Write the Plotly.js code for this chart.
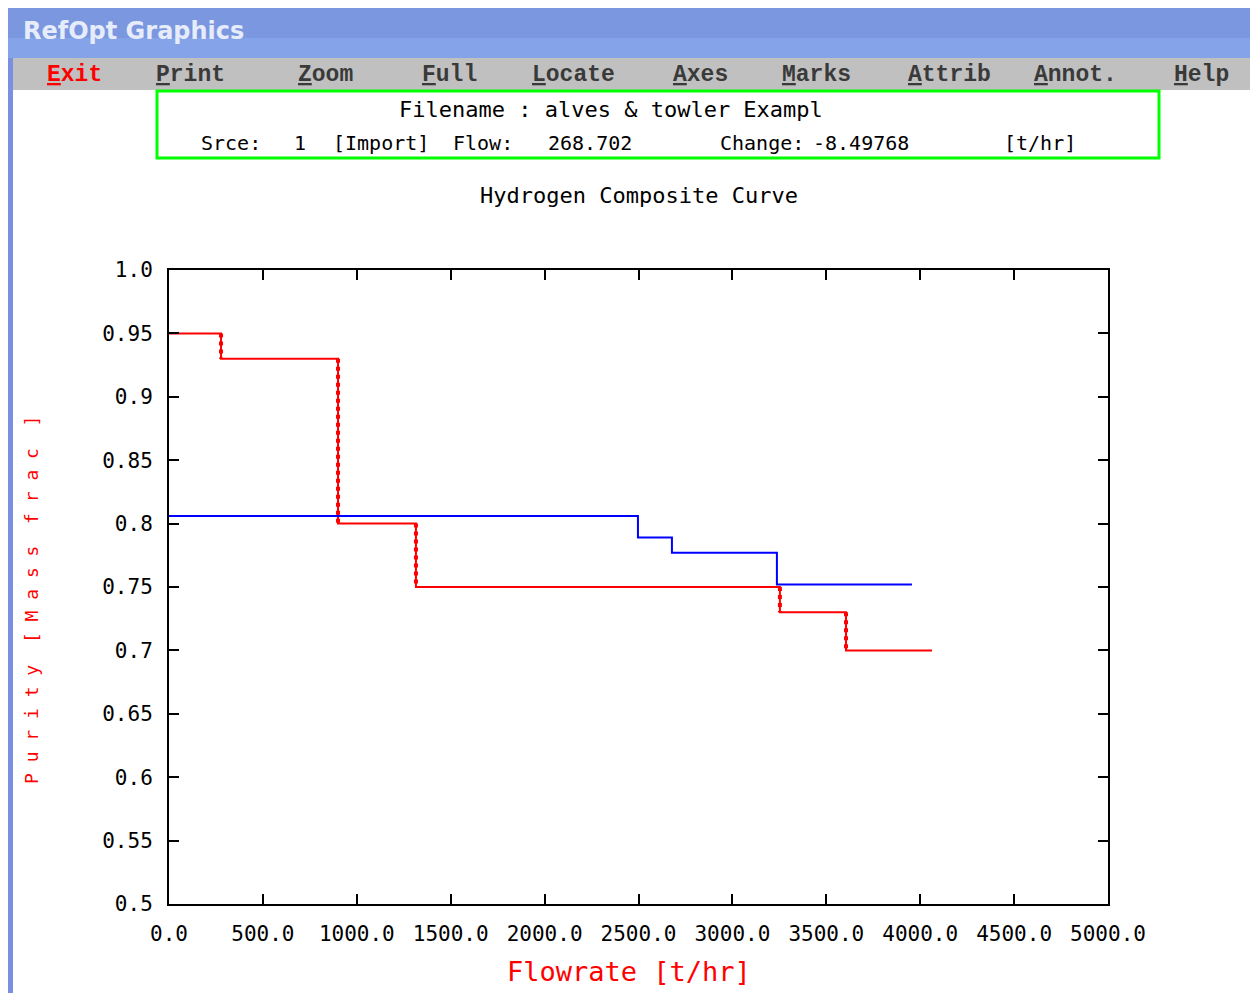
<!DOCTYPE html>
<html>
<head>
<meta charset="utf-8">
<script src="https://cdn.plot.ly/plotly-3.0.1.min.js"></script>
<style>
  html, body { margin: 0; padding: 0; background: #ffffff; }
  #chart { width: 1250px; height: 993px; }
</style>
</head>
<body>
<div id="chart"></div>
<script>
// Hydrogen composite curve: demand (red) and supply (blue) purity vs cumulative flow
const demandFlow   = [0, 277, 900, 1315, 3253, 3605, 4063];
const demandPurity = [0.95, 0.93, 0.80, 0.75, 0.73, 0.70, 0.70];

const supplyFlow   = [0, 2497, 2678, 3237, 3956];
const supplyPurity = [0.806, 0.789, 0.777, 0.752, 0.752];

const xTickVals   = [0, 500, 1000, 1500, 2000, 2500, 3000, 3500, 4000, 4500, 5000];
const xTickLabels = ["0.0", "500.0", "1000.0", "1500.0", "2000.0", "2500.0", "3000.0", "3500.0", "4000.0", "4500.0", "5000.0"];
const yTickVals   = [0.5, 0.55, 0.6, 0.65, 0.7, 0.75, 0.8, 0.85, 0.9, 0.95, 1.0];
const yTickLabels = ["0.5", "0.55", "0.6", "0.65", "0.7", "0.75", "0.8", "0.85", "0.9", "0.95", "1.0"];

const menuItems = ["Exit", "Print", "Zoom", "Full", "Locate", "Axes", "Marks", "Attrib", "Annot.", "Help"];
const menuLeft  = [45, 154, 296, 420, 530, 671, 780, 906, 1032, 1172];

const mono = "DejaVu Sans Mono";

// vertical drop segments of the demand curve, drawn dotted over the step line
const dropX = [], dropY = [];
for (let i = 1; i < demandFlow.length; i++) {
  if (demandPurity[i] !== demandPurity[i - 1]) {
    dropX.push(demandFlow[i], demandFlow[i], null);
    dropY.push(demandPurity[i - 1], demandPurity[i], null);
  }
}

const traces = [
  { x: demandFlow, y: demandPurity, mode: "lines", line: { shape: "hv", color: "#ff0000", width: 2 }, hoverinfo: "skip" },
  { x: dropX, y: dropY, mode: "lines", line: { color: "#ff0000", width: 4, dash: "dot" }, hoverinfo: "skip" },
  { x: supplyFlow, y: supplyPurity, mode: "lines", line: { shape: "hv", color: "#0000ff", width: 2 }, hoverinfo: "skip" }
];

const W = 1250, H = 993;
const M = { l: 169, r: 142, t: 270, b: 89 };
const PW = W - M.l - M.r, PH = H - M.t - M.b;
// window pixel -> paper coordinates (paper spans the plot area)
const px = v => (v - M.l) / PW;
const py = v => (H - M.b - v) / PH;

const shapes = [
  // window title bar
  { type: "rect", xref: "paper", yref: "paper", x0: px(8), x1: px(W), y0: py(58), y1: py(8), fillcolor: "#7b97e0", line: { width: 0 }, layer: "below" },
  { type: "rect", xref: "paper", yref: "paper", x0: px(8), x1: px(W), y0: py(58), y1: py(38), fillcolor: "#84a3e8", line: { width: 0 }, layer: "below" },
  // left window border
  { type: "rect", xref: "paper", yref: "paper", x0: px(8), x1: px(13), y0: py(H), y1: py(58), fillcolor: "#7b8fe0", line: { width: 0 }, layer: "below" },
  // menu bar
  { type: "rect", xref: "paper", yref: "paper", x0: px(13), x1: px(W), y0: py(90), y1: py(58), fillcolor: "#c0c0c0", line: { width: 0 }, layer: "below" },
  // status box
  { type: "rect", xref: "paper", yref: "paper", x0: px(157), x1: px(1159), y0: py(158), y1: py(91), fillcolor: "rgba(0,0,0,0)", line: { width: 3, color: "#00ff00" } }
];

const ann = (text, x, y, opts) => Object.assign({
  text, xref: "paper", yref: "paper", x: px(x), y: py(y), showarrow: false,
  xanchor: "left", yanchor: "middle", font: { family: mono, size: 20, color: "#000000" }
}, opts || {});

const infoFont = { family: mono, size: 20, color: "#000" };

const annotations = [
  ann("RefOpt Graphics", 21, 31, { font: { family: "DejaVu Sans", size: 24, color: "#e6ecfa", weight: "bold" } }),
  ann("Filename : alves &amp; towler Exampl", 611, 109, { xanchor: "center", font: { family: mono, size: 22, color: "#000" } }),
  ann("Srce:", 199, 143, { font: infoFont }),
  ann("1", 292, 143, { font: infoFont }),
  ann("[Import]", 331, 143, { font: infoFont }),
  ann("Flow:", 451, 143, { font: infoFont }),
  ann("268.702", 546, 143, { font: infoFont }),
  ann("Change:", 718, 143, { font: infoFont }),
  ann("-8.49768", 811, 143, { font: infoFont }),
  ann("[t/hr]", 1002, 143, { font: infoFont }),
  ann("Hydrogen Composite Curve", 639, 195, { xanchor: "center", font: { family: mono, size: 22, color: "#000" } }),
  ann("Flowrate [t/hr]", 629, 971, { xanchor: "center", font: { family: mono, size: 27, color: "#ff0000" } }),
  ann("P u r i t y  [ M a s s  f r a c  ]", 31, 600, { xanchor: "center", textangle: -90, font: { family: mono, size: 18, color: "#ff0000" } })
];

menuItems.forEach((m, i) => {
  const label = "<u>" + m.charAt(0) + "</u>" + m.slice(1);
  annotations.push(ann(label, menuLeft[i], 75, {
    font: { family: "Liberation Mono", size: 23, weight: "bold", color: i === 0 ? "#ff0000" : "#3a3a3a" }
  }));
});

const layout = {
  width: W, height: H,
  margin: { l: M.l, r: M.r, t: M.t, b: M.b, pad: 0 },
  paper_bgcolor: "#ffffff",
  plot_bgcolor: "#ffffff",
  showlegend: false,
  xaxis: {
    range: [0, 5000], tickvals: xTickVals, ticktext: xTickLabels,
    ticks: "inside", ticklen: 10, tickwidth: 2, tickcolor: "#000",
    showline: true, linecolor: "#000", linewidth: 2, mirror: "ticks",
    showgrid: false, zeroline: false, ticklabelstandoff: 10,
    tickfont: { family: mono, size: 21, color: "#000" }
  },
  yaxis: {
    range: [0.5, 1.0], tickvals: yTickVals, ticktext: yTickLabels,
    ticks: "inside", ticklen: 10, tickwidth: 2, tickcolor: "#000",
    showline: true, linecolor: "#000", linewidth: 2, mirror: "ticks",
    showgrid: false, zeroline: false, ticklabelstandoff: 10,
    tickfont: { family: mono, size: 21, color: "#000" }
  },
  shapes, annotations
};

Plotly.newPlot("chart", traces, layout, { displayModeBar: false, staticPlot: true });
</script>
</body>
</html>
